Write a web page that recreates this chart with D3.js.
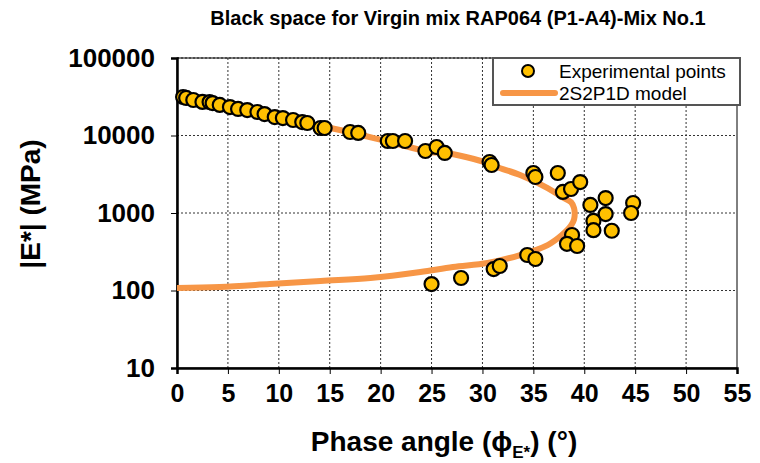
<!DOCTYPE html>
<html>
<head>
<meta charset="utf-8">
<script src="https://cdn.jsdelivr.net/npm/d3@7"></script>
<style>
  body { margin: 0; background: #fff; }
  svg { display: block; font-family: "Liberation Sans", Arial, sans-serif; }
</style>
</head>
<body>
<div id="chart"></div>
<script>
// Experimental points: phase angle (deg), |E*| (MPa)
const expPhase = [0.6, 0.9, 1.6, 2.5, 3.2, 3.5, 4.2, 5.2, 6.0, 6.9, 7.9, 8.6, 9.6, 10.4, 11.4,
  12.3, 12.8, 14.1, 14.5, 17.0, 17.8, 20.7, 21.2, 22.4, 24.4, 25.5, 26.3, 30.7, 30.9,
  35.0, 35.2, 37.4, 37.9, 38.7, 39.6, 40.6, 42.1, 42.1, 40.9, 40.9, 42.7, 44.8, 44.6,
  38.8, 38.3, 39.3, 34.4, 35.2, 31.1, 31.7, 27.9, 25.0];
const expModulus = [31400, 30500, 28700, 27100, 27000, 26200, 24800, 23300, 22000, 21300, 20100, 18900, 17300, 16800, 15850,
  14900, 14500, 12500, 12500, 11100, 10800, 8490, 8490, 8490, 6310, 7110, 5950, 4550, 4160,
  3280, 2915, 3280, 1870, 2040, 2510, 1270, 1560, 970, 790, 600, 590, 1345, 1000,
  520, 400, 375, 287, 255, 189, 207, 145, 121];

// 2S2P1D model curve
const modelPhase = [0, 4.2, 9.1, 14.1, 19.0, 23.9, 27.1, 30.5, 33.7, 36.4, 37.8, 38.7, 39.0,
  39.0, 38.7, 37.8, 36.4, 33.7, 31.4, 30.5, 26.5, 24.9, 20.9, 16.0, 11.1, 6.2, 2.3, 0];
const modelModulus = [108, 111, 121, 133, 145, 173, 201, 226, 287, 386, 520, 690, 830,
  1150, 1380, 1608, 2100, 3090, 3930, 4420, 5950, 6120, 8240, 11780, 15850, 22650, 28740, 33400];

const xTicks = [0, 5, 10, 15, 20, 25, 30, 35, 40, 45, 50, 55];
const yTicks = [10, 100, 1000, 10000, 100000];

const titleText = 'Black space for Virgin mix RAP064 (P1-A4)-Mix No.1';
const legendLabels = ['Experimental points', '2S2P1D model'];

drawChart();

function drawChart(){
  const W = 760, H = 463;
  const margin = { top: 58, right: 23, bottom: 95, left: 177 };

  const svg = d3.select('#chart').append('svg')
                .attr('width', W)
                .attr('height', H);

  const x = d3.scaleLinear().domain([0, 55]).range([margin.left, W - margin.right]);
  const y = d3.scaleLog().domain([10, 100000]).range([H - margin.bottom, margin.top]);

  // grid
  const grid = svg.append('g');
  grid.selectAll('.vg').data(xTicks.slice(1, -1)).enter().append('line')
      .attr('x1', d => x(d)).attr('x2', d => x(d))
      .attr('y1', y(10)).attr('y2', y(100000))
      .attr('stroke', '#333').attr('stroke-width', 1).attr('stroke-dasharray', '2,2');
  grid.selectAll('.hg').data(yTicks.slice(1)).enter().append('line')
      .attr('x1', x(0)).attr('x2', x(55))
      .attr('y1', d => y(d)).attr('y2', d => y(d))
      .attr('stroke', '#333').attr('stroke-width', 1).attr('stroke-dasharray', '2,2');

  // frame
  svg.append('rect')
     .attr('x', x(0)).attr('y', y(100000))
     .attr('width', x(55) - x(0)).attr('height', y(10) - y(100000))
     .attr('fill', 'none').attr('stroke', '#000').attr('stroke-width', 1);

  // axes
  const xAxis = svg.append('g')
     .attr('transform', `translate(0,${y(10)})`)
     .call(d3.axisBottom(x).tickValues(xTicks).tickSize(6).tickPadding(10).tickFormat(d3.format('d')));
  const yAxis = svg.append('g')
     .attr('transform', `translate(${x(0)},0)`)
     .call(d3.axisLeft(y).tickValues(yTicks).tickSize(6).tickPadding(16).tickFormat(d3.format('d')));
  [xAxis, yAxis].forEach(a => {
    a.select('.domain').attr('stroke', '#000').attr('stroke-width', 2.5);
    a.selectAll('.tick line').attr('stroke', '#000').attr('stroke-width', 1);
    a.selectAll('.tick text').attr('fill', '#000')
     .style('font-size', '25px').style('font-weight', 'bold');
  });
  yAxis.selectAll('.tick text').style('font-size', '26px');

  // model curve
  const modelData = modelPhase.map((p, i) => [p, modelModulus[i]]);
  const line = d3.line().x(d => x(d[0])).y(d => y(d[1])).curve(d3.curveCatmullRom.alpha(0.5));
  svg.append('path')
     .datum(modelData)
     .attr('d', line)
     .attr('fill', 'none')
     .attr('stroke', '#F79646')
     .attr('stroke-width', 6)
     .attr('stroke-linejoin', 'round');

  // experimental points
  const expData = expPhase.map((p, i) => [p, expModulus[i]]);
  svg.append('g').selectAll('circle').data(expData).enter().append('circle')
     .attr('cx', d => x(d[0]))
     .attr('cy', d => y(d[1]))
     .attr('r', 7)
     .attr('fill', '#FFC000')
     .attr('stroke', '#000')
     .attr('stroke-width', 2.2);

  // title
  svg.append('text')
     .attr('x', 458).attr('y', 25)
     .attr('text-anchor', 'middle')
     .style('font-size', '20px').style('font-weight', 'bold')
     .text(titleText);

  // y label
  svg.append('text')
     .attr('transform', 'translate(40,204) rotate(-90)')
     .attr('text-anchor', 'middle')
     .style('font-size', '28px').style('font-weight', 'bold')
     .text('|E*| (MPa)');

  // x label
  const xl = svg.append('text')
     .attr('x', 444).attr('y', 451)
     .attr('text-anchor', 'middle')
     .style('font-size', '28px').style('font-weight', 'bold');
  xl.append('tspan').text('Phase angle (\u03D5');
  xl.append('tspan').attr('dy', 7).style('font-size', '17px').text('E*');
  xl.append('tspan').attr('dy', -7).text(') (\u00B0)');

  // legend
  const lg = svg.append('g');
  lg.append('rect')
    .attr('x', 493).attr('y', 58).attr('width', 247).attr('height', 47)
    .attr('fill', '#fff').attr('stroke', '#555').attr('stroke-width', 2);
  lg.append('circle')
    .attr('cx', 528).attr('cy', 71).attr('r', 6)
    .attr('fill', '#FFC000').attr('stroke', '#000').attr('stroke-width', 2);
  lg.append('line')
    .attr('x1', 503).attr('x2', 555).attr('y1', 93).attr('y2', 93)
    .attr('stroke', '#F79646').attr('stroke-width', 6).attr('stroke-linecap', 'round');
  lg.selectAll('.lt').data(legendLabels).enter().append('text')
    .attr('x', 559).attr('y', (d, i) => 78 + i * 22)
    .style('font-size', '19px')
    .text(d => d);
}
</script>
</body>
</html>
